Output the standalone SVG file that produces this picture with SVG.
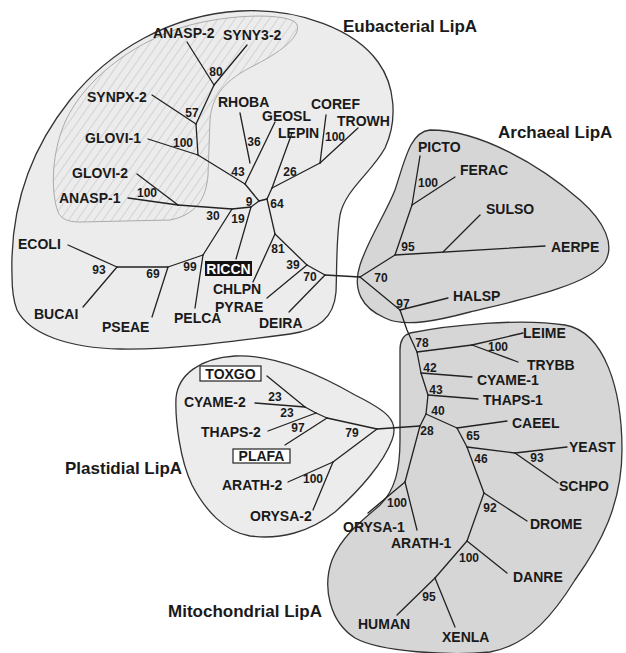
<svg xmlns="http://www.w3.org/2000/svg" width="626" height="653" viewBox="0 0 626 653">
<style>
.blob{stroke:#333;stroke-width:1.3}
.light{fill:#ececec}
.dark{fill:#d6d6d6}
.e line,.e polyline{stroke:#222;stroke-width:1.3;fill:none;stroke-linecap:round}
text{font-family:"Liberation Sans",Arial,sans-serif;font-weight:bold;fill:#1a1a1a}
.t{font-size:14px}
.b{font-size:12px;text-anchor:middle}
.g{font-size:17px}
.box{fill:#fff;stroke:#222;stroke-width:1.2}
</style>
<defs>
<pattern id="hatch" width="7" height="7" patternUnits="userSpaceOnUse" patternTransform="rotate(35)">
<line x1="0" y1="0" x2="0" y2="7" stroke="#b4b4b4" stroke-width="0.9"/>
</pattern>
</defs>
<g id="clusters">
<path id="eubacterial" class="blob light" d="M12,275 C10,210 30,150 70,100 C110,50 170,15 240,11 C300,8 355,30 378,62 C395,85 398,120 385,148 C372,172 345,190 340,215 C336,240 337,270 336,292 C334,318 318,330 290,334 C230,342 170,350 120,349 C70,348 30,335 17,310 C13,300 12,288 12,275 Z"/>
<path id="cyano" d="M58,212 C50,190 52,150 66,120 C85,80 130,45 180,28 C220,15 280,12 295,22 C305,32 285,50 255,65 C225,80 212,95 210,120 L208,175 C206,200 195,215 170,220 L80,222 C68,222 61,219 58,212 Z" fill="url(#hatch)" stroke="#aaa" stroke-width="1"/>
<path id="archaeal" class="blob dark" d="M430,130 C480,130 540,165 580,200 C605,222 615,245 605,262 C590,285 520,300 470,312 C440,320 405,328 385,318 C362,308 352,290 360,265 C368,240 385,215 395,190 C405,160 410,132 430,130 Z"/>
<path id="mitochondrial" class="blob dark" d="M410,333 C450,325 520,318 565,325 C605,332 622,390 622,450 C622,505 600,545 575,580 C555,612 530,645 490,652 C450,656 380,652 355,638 C330,622 322,588 332,560 C342,535 365,518 380,505 C395,490 400,470 400,440 L400,350 C400,340 403,335 410,333 Z"/>
<path id="plastidial" class="blob light" d="M176,398 C178,375 200,358 235,356 C275,354 320,375 355,395 C385,410 400,420 392,440 C384,462 360,490 335,512 C310,532 280,540 250,536 C225,532 205,510 192,485 C180,460 175,420 176,398 Z"/>
</g>
<g id="connectors" class="e">
<line x1="187" y1="42" x2="214" y2="85"/>
<line x1="247" y1="45" x2="214" y2="85"/>
<line x1="214" y1="85" x2="196" y2="124"/>
<line x1="152" y1="95" x2="196" y2="124"/>
<line x1="196" y1="124" x2="198" y2="155"/>
<line x1="148" y1="139" x2="198" y2="155"/>
<line x1="198" y1="155" x2="245" y2="184"/>
<line x1="240" y1="113" x2="250" y2="163"/>
<line x1="275" y1="122" x2="245" y2="184"/>
<line x1="245" y1="184" x2="259" y2="201"/>
<line x1="259" y1="201" x2="267" y2="199"/>
<line x1="267" y1="199" x2="272" y2="188"/>
<line x1="292" y1="133" x2="272" y2="188"/>
<line x1="272" y1="188" x2="320" y2="163"/>
<line x1="326" y1="115" x2="320" y2="163"/>
<line x1="358" y1="128" x2="320" y2="163"/>
<line x1="267" y1="199" x2="275" y2="234"/>
<line x1="253" y1="282" x2="275" y2="234"/>
<line x1="275" y1="234" x2="307" y2="265"/>
<line x1="267" y1="298" x2="307" y2="265"/>
<line x1="307" y1="265" x2="325" y2="275"/>
<line x1="289" y1="312" x2="325" y2="275"/>
<line x1="325" y1="275" x2="360" y2="277"/>
<line x1="259" y1="201" x2="251" y2="207"/>
<line x1="236" y1="259" x2="251" y2="207"/>
<line x1="251" y1="207" x2="232" y2="209"/>
<line x1="232" y1="209" x2="203" y2="255"/>
<line x1="195" y1="308" x2="203" y2="255"/>
<line x1="203" y1="255" x2="168" y2="267"/>
<line x1="152" y1="317" x2="168" y2="267"/>
<line x1="168" y1="267" x2="117" y2="267"/>
<line x1="68" y1="245" x2="117" y2="267"/>
<line x1="83" y1="307" x2="117" y2="267"/>
<line x1="232" y1="209" x2="178" y2="205"/>
<line x1="128" y1="198" x2="178" y2="205"/>
<line x1="137" y1="174" x2="178" y2="205"/>
<line x1="360" y1="277" x2="395" y2="255"/>
<line x1="395" y1="255" x2="412" y2="205"/>
<line x1="420" y1="156" x2="412" y2="205"/>
<line x1="455" y1="177" x2="412" y2="205"/>
<line x1="395" y1="255" x2="545" y2="246"/>
<line x1="480" y1="215" x2="443" y2="252"/>
<line x1="360" y1="277" x2="400" y2="310"/>
<line x1="448" y1="298" x2="400" y2="310"/>
<polyline points="400,310 407,330 417,352"/>
<line x1="417" y1="352" x2="472" y2="345"/>
<line x1="523" y1="333" x2="472" y2="345"/>
<line x1="518" y1="362" x2="472" y2="345"/>
<line x1="417" y1="352" x2="421" y2="373"/>
<line x1="421" y1="373" x2="472" y2="377"/>
<line x1="421" y1="373" x2="428" y2="395"/>
<line x1="428" y1="395" x2="478" y2="399"/>
<line x1="428" y1="395" x2="426" y2="414"/>
<line x1="426" y1="414" x2="420" y2="426"/>
<line x1="426" y1="414" x2="457" y2="428"/>
<line x1="457" y1="428" x2="507" y2="421"/>
<line x1="457" y1="428" x2="467" y2="447"/>
<line x1="467" y1="447" x2="515" y2="453"/>
<line x1="515" y1="453" x2="567" y2="447"/>
<line x1="515" y1="453" x2="558" y2="483"/>
<line x1="467" y1="447" x2="484" y2="493"/>
<line x1="484" y1="493" x2="527" y2="521"/>
<line x1="484" y1="493" x2="467" y2="541"/>
<line x1="467" y1="541" x2="507" y2="573"/>
<line x1="467" y1="541" x2="435" y2="578"/>
<line x1="397" y1="615" x2="435" y2="578"/>
<line x1="455" y1="627" x2="435" y2="578"/>
<line x1="420" y1="426" x2="405" y2="482"/>
<line x1="368" y1="513" x2="405" y2="482"/>
<line x1="417" y1="530" x2="405" y2="482"/>
<line x1="420" y1="426" x2="377" y2="429"/>
<line x1="377" y1="429" x2="327" y2="418"/>
<line x1="327" y1="418" x2="316" y2="413"/>
<line x1="268" y1="431" x2="316" y2="413"/>
<line x1="316" y1="413" x2="305" y2="407"/>
<line x1="255" y1="403" x2="305" y2="407"/>
<line x1="267" y1="376" x2="305" y2="407"/>
<line x1="285" y1="445" x2="327" y2="418"/>
<line x1="377" y1="429" x2="333" y2="462"/>
<line x1="288" y1="482" x2="333" y2="462"/>
<line x1="313" y1="510" x2="333" y2="462"/>
</g>
<g id="bootstrap">
<text class="b" x="216" y="76">80</text>
<text class="b" x="192" y="117">57</text>
<text class="b" x="183" y="147">100</text>
<text class="b" x="147" y="197">100</text>
<text class="b" x="254" y="146">36</text>
<text class="b" x="238" y="176">43</text>
<text class="b" x="290" y="176">26</text>
<text class="b" x="335" y="141">100</text>
<text class="b" x="249" y="206">9</text>
<text class="b" x="277" y="208">64</text>
<text class="b" x="213" y="220">30</text>
<text class="b" x="238" y="223">19</text>
<text class="b" x="190" y="271">99</text>
<text class="b" x="153" y="278">69</text>
<text class="b" x="99" y="274">93</text>
<text class="b" x="278" y="253">81</text>
<text class="b" x="293" y="269">39</text>
<text class="b" x="310" y="281">70</text>
<text class="b" x="381" y="282">70</text>
<text class="b" x="408" y="251">95</text>
<text class="b" x="428" y="187">100</text>
<text class="b" x="403" y="308">97</text>
<text class="b" x="422" y="347">78</text>
<text class="b" x="498" y="351">100</text>
<text class="b" x="430" y="372">42</text>
<text class="b" x="436" y="394">43</text>
<text class="b" x="438" y="415">40</text>
<text class="b" x="427" y="435">28</text>
<text class="b" x="473" y="440">65</text>
<text class="b" x="481" y="463">46</text>
<text class="b" x="537" y="462">93</text>
<text class="b" x="490" y="512">92</text>
<text class="b" x="469" y="562">100</text>
<text class="b" x="429" y="601">95</text>
<text class="b" x="397" y="507">100</text>
<text class="b" x="275" y="401">23</text>
<text class="b" x="287" y="417">23</text>
<text class="b" x="298" y="432">97</text>
<text class="b" x="352" y="437">79</text>
<text class="b" x="313" y="483">100</text>
</g>
<g id="titles">
<text class="g" x="343" y="32">Eubacterial LipA</text>
<text class="g" x="498" y="138">Archaeal LipA</text>
<text class="g" x="65" y="474">Plastidial LipA</text>
<text class="g" x="168" y="617">Mitochondrial LipA</text>
</g>
<g id="ANASP-2"><text class="t" x="153" y="38">ANASP-2</text></g>
<g id="SYNY3-2"><text class="t" x="223" y="40">SYNY3-2</text></g>
<g id="SYNPX-2"><text class="t" x="87" y="102">SYNPX-2</text></g>
<g id="GLOVI-1"><text class="t" x="85" y="143">GLOVI-1</text></g>
<g id="GLOVI-2"><text class="t" x="72" y="178">GLOVI-2</text></g>
<g id="ANASP-1"><text class="t" x="59" y="203">ANASP-1</text></g>
<g id="RHOBA"><text class="t" x="218" y="107">RHOBA</text></g>
<g id="GEOSL"><text class="t" x="262" y="121">GEOSL</text></g>
<g id="LEPIN"><text class="t" x="278" y="138">LEPIN</text></g>
<g id="COREF"><text class="t" x="311" y="109">COREF</text></g>
<g id="TROWH"><text class="t" x="337" y="126">TROWH</text></g>
<g id="ECOLI"><text class="t" x="18" y="249">ECOLI</text></g>
<g id="BUCAI"><text class="t" x="34" y="319">BUCAI</text></g>
<g id="PSEAE"><text class="t" x="102" y="332">PSEAE</text></g>
<g id="PELCA"><text class="t" x="174" y="323">PELCA</text></g>
<g id="RICCN"><rect x="205" y="261" width="47" height="15" fill="#111"/><text class="t" x="228.5" y="274" text-anchor="middle" style="fill:#fff">RICCN</text></g>
<g id="CHLPN"><text class="t" x="213" y="294">CHLPN</text></g>
<g id="PYRAE"><text class="t" x="215" y="312">PYRAE</text></g>
<g id="DEIRA"><text class="t" x="259" y="328">DEIRA</text></g>
<g id="PICTO"><text class="t" x="418" y="152">PICTO</text></g>
<g id="FERAC"><text class="t" x="460" y="175">FERAC</text></g>
<g id="SULSO"><text class="t" x="486" y="214">SULSO</text></g>
<g id="AERPE"><text class="t" x="551" y="252">AERPE</text></g>
<g id="HALSP"><text class="t" x="453" y="301">HALSP</text></g>
<g id="LEIME"><text class="t" x="523" y="338">LEIME</text></g>
<g id="TRYBB"><text class="t" x="527" y="370">TRYBB</text></g>
<g id="CYAME-1"><text class="t" x="477" y="385">CYAME-1</text></g>
<g id="THAPS-1"><text class="t" x="483" y="405">THAPS-1</text></g>
<g id="CAEEL"><text class="t" x="512" y="428">CAEEL</text></g>
<g id="YEAST"><text class="t" x="569" y="452">YEAST</text></g>
<g id="SCHPO"><text class="t" x="559" y="491">SCHPO</text></g>
<g id="DROME"><text class="t" x="530" y="529">DROME</text></g>
<g id="DANRE"><text class="t" x="513" y="582">DANRE</text></g>
<g id="XENLA"><text class="t" x="442" y="642">XENLA</text></g>
<g id="HUMAN"><text class="t" x="358" y="629">HUMAN</text></g>
<g id="ORYSA-1"><text class="t" x="343" y="532">ORYSA-1</text></g>
<g id="ARATH-1"><text class="t" x="391" y="548">ARATH-1</text></g>
<g id="TOXGO"><rect class="box" x="200" y="366" width="61" height="15"/><text class="t" x="230.5" y="379" text-anchor="middle">TOXGO</text></g>
<g id="CYAME-2"><text class="t" x="184" y="407">CYAME-2</text></g>
<g id="THAPS-2"><text class="t" x="201" y="437">THAPS-2</text></g>
<g id="PLAFA"><rect class="box" x="233" y="449" width="57" height="14"/><text class="t" x="261.5" y="461" text-anchor="middle">PLAFA</text></g>
<g id="ARATH-2"><text class="t" x="222" y="490">ARATH-2</text></g>
<g id="ORYSA-2"><text class="t" x="250" y="521">ORYSA-2</text></g>
</svg>
